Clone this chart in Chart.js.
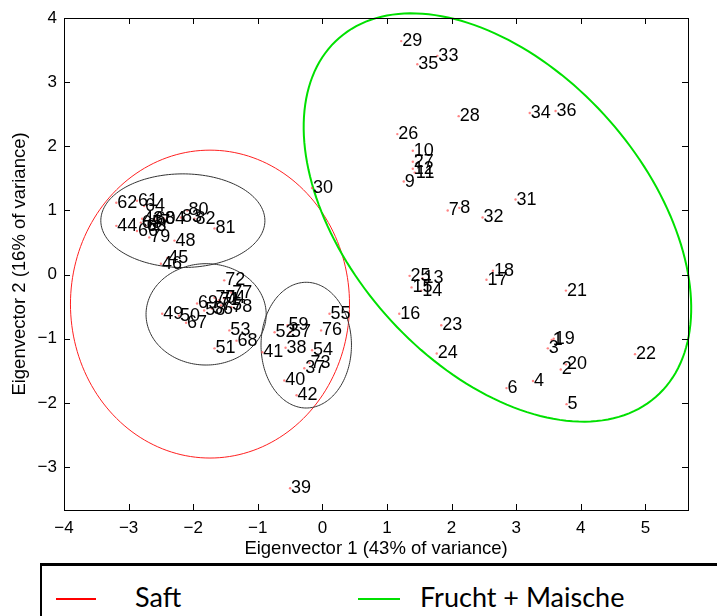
<!DOCTYPE html>
<html>
<head>
<meta charset="utf-8">
<script src="https://cdn.jsdelivr.net/npm/chart.js@4.4.1/dist/chart.umd.min.js"></script>
<style>
  html, body { margin: 0; padding: 0; background: #fff; }
  #wrap { position: relative; width: 717px; height: 616px; overflow: hidden; }
  #chart-box { position: absolute; left: 0; top: 0; width: 717px; height: 560px; }
  #legend {
    position: absolute; left: 40px; top: 563px; width: 700px; height: 70px;
    border-top: 3px solid #000; border-left: 2px solid #000;
    font-family: Lato, "Open Sans", sans-serif; font-size: 27px; color: #000;
  }
  #legend .swatch { position: absolute; top: 32px; height: 2px; }
  #legend .txt { position: absolute; top: 16px; line-height: 30px; }
</style>
</head>
<body>
<div id="wrap">
  <div id="chart-box"><canvas id="pcaChart" width="717" height="560"></canvas></div>
  <div id="legend">
    <div class="swatch" style="left:14px;width:40px;background:#ff0000"></div>
    <div class="txt" style="left:93px">Saft</div>
    <div class="swatch" style="left:316px;width:42px;background:#00e000"></div>
    <div class="txt" style="left:378px">Frucht + Maische</div>
  </div>
</div>
<script>
// sample numbers 1..84 with their scores on the first two eigenvectors
const sampleIds = [];
for (let i = 1; i <= 84; i++) sampleIds.push(String(i));

const pc1Scores = [
  3.55, 3.69, 3.49, 3.26, 3.78, 2.85, 1.94, 2.12, 1.26, 1.40,
  1.43, 1.40, 1.55, 1.53, 1.38, 1.19, 2.54, 2.64, 3.58, 3.77,
  3.77, 4.84, 1.84, 1.77, 1.35, 1.16, 1.40, 2.11, 1.22, -0.16,
  2.99, 2.48, 1.78, 3.21, 1.47, 3.61, -0.28, -0.57, -0.50, -0.59,
  -0.93, -0.40, -2.79, -3.19, -2.40, -2.50, -2.68, -2.29, -2.48, -2.22,
  -1.67, -0.74, -1.44, -0.16, 0.11, -1.71, -0.50, -1.83, -0.54, -2.60,
  -2.87, -3.19, -2.74, -2.76, -2.81, -2.87, -2.11, -1.33, -1.94, -1.67,
  -1.60, -1.52, -0.20, -1.52, -1.57, -0.02, -1.41, -1.41, -2.68, -2.09,
  -1.67, -1.98, -2.19, -2.45
];
const pc2Scores = [
  -1.02, -1.48, -1.15, -1.66, -2.02, -1.77, 1.00, 1.04, 1.45, 1.93,
  1.59, 1.65, -0.06, -0.25, -0.20, -0.61, -0.08, 0.06, -1.00, -1.40,
  -0.25, -1.24, -0.79, -1.23, -0.02, 2.19, 1.76, 2.47, 3.64, 1.35,
  1.17, 0.89, 3.41, 2.52, 3.28, 2.55, -1.46, -1.14, -3.33, -1.65,
  -1.21, -1.88, 0.87, 0.76, 0.26, 0.17, 0.82, 0.53, -0.61, -0.64,
  -1.15, -0.90, -0.87, -1.18, -0.61, -0.53, -0.90, -0.56, -0.79, 0.86,
  1.15, 1.12, 0.76, 1.07, 0.81, 0.68, -0.75, -1.03, -0.45, -0.36,
  -0.40, -0.09, -1.38, -0.37, -0.48, -0.87, -0.28, -0.51, 0.58, 1.00,
  0.72, 0.87, 0.89, 0.87
];

// group ellipses (centre, semi axes, rotation in degrees) in data units
const ellipseCx = [-1.74, 2.71, -2.16, -1.80, -0.25];
const ellipseCy = [-0.46, 0.89, 0.84, -0.62, -1.10];
const ellipseA = [2.16, 3.72, 1.27, 0.93, 0.70];
const ellipseB = [2.40, 2.30, 0.73, 0.79, 0.98];
const ellipseRot = [0, -48.8, 0, 0, 0];
const ellipseColors = ["#ff2020", "#00e000", "#333333", "#333333", "#333333"];
const ellipseWidths = [1, 2, 1, 1, 1];

const xTicks = [-4, -3, -2, -1, 0, 1, 2, 3, 4, 5];
const yTicks = [-3, -2, -1, 0, 1, 2, 3, 4];

const points = sampleIds.map((id, i) => ({ x: pc1Scores[i], y: pc2Scores[i] }));
const fmt = v => String(v).replace("-", "\u2212");

// ellipses under the points
const ellipsePlugin = {
  id: "ellipses",
  beforeDatasetsDraw(chart) {
    const { ctx, scales: { x, y } } = chart;
    ctx.save();
    for (let k = 0; k < ellipseCx.length; k++) {
      const r = ellipseRot[k] * Math.PI / 180;
      ctx.beginPath();
      for (let s = 0; s <= 360; s += 2) {
        const t = s * Math.PI / 180;
        const u = ellipseA[k] * Math.cos(t), w = ellipseB[k] * Math.sin(t);
        const dx = ellipseCx[k] + u * Math.cos(r) - w * Math.sin(r);
        const dy = ellipseCy[k] + u * Math.sin(r) + w * Math.cos(r);
        const px = x.getPixelForValue(dx), py = y.getPixelForValue(dy);
        if (s === 0) ctx.moveTo(px, py); else ctx.lineTo(px, py);
      }
      ctx.closePath();
      ctx.strokeStyle = ellipseColors[k];
      ctx.lineWidth = ellipseWidths[k];
      ctx.stroke();
    }
    ctx.restore();
  }
};

// box frame with inward ticks on all four sides
const framePlugin = {
  id: "frame",
  afterDraw(chart) {
    const { ctx, chartArea: a, scales: { x, y } } = chart;
    ctx.save();
    ctx.strokeStyle = "#000";
    ctx.lineWidth = 1;
    ctx.strokeRect(a.left + 0.5, a.top + 0.5, a.right - a.left, a.bottom - a.top);
    ctx.beginPath();
    xTicks.forEach(v => {
      const px = Math.round(x.getPixelForValue(v)) + 0.5;
      ctx.moveTo(px, a.bottom); ctx.lineTo(px, a.bottom - 6);
      ctx.moveTo(px, a.top); ctx.lineTo(px, a.top + 6);
    });
    yTicks.forEach(v => {
      const py = Math.round(y.getPixelForValue(v)) + 0.5;
      ctx.moveTo(a.left, py); ctx.lineTo(a.left + 6, py);
      ctx.moveTo(a.right, py); ctx.lineTo(a.right - 6, py);
    });
    ctx.stroke();
    ctx.restore();
  }
};

// sample numbers written to the right of each point
const labelPlugin = {
  id: "sampleLabels",
  afterDatasetsDraw(chart) {
    const { ctx } = chart;
    const meta = chart.getDatasetMeta(0);
    ctx.save();
    ctx.font = '18px "Liberation Sans", Arial, sans-serif';
    ctx.fillStyle = "#000";
    ctx.textAlign = "left";
    ctx.textBaseline = "middle";
    meta.data.forEach((pt, i) => ctx.fillText(sampleIds[i], pt.x + 1, pt.y));
    ctx.restore();
  }
};

const tickFont = { family: '"Liberation Sans", Arial, sans-serif', size: 17 };
const titleFont = { family: '"Liberation Sans", Arial, sans-serif', size: 18.5 };

new Chart(document.getElementById("pcaChart"), {
  type: "scatter",
  data: {
    datasets: [{
      data: points,
      pointRadius: 1.2,
      pointBackgroundColor: "rgba(255,80,80,0.7)",
      pointBorderWidth: 0
    }]
  },
  options: {
    responsive: false,
    animation: false,
    layout: { padding: { top: 18, right: 29, left: 0, bottom: 0 } },
    plugins: { legend: { display: false }, tooltip: { enabled: false } },
    scales: {
      x: {
        type: "linear", min: -4, max: 5.66,
        afterBuildTicks: s => { s.ticks = xTicks.map(v => ({ value: v })); },
        afterFit: s => { s.height = 50; },
        grid: { display: false, drawTicks: false },
        border: { display: false },
        ticks: { color: "#000", font: tickFont, padding: 8, callback: v => fmt(v) },
        title: { display: true, text: "Eigenvector 1 (43% of variance)", color: "#000", font: titleFont, padding: { top: 0, bottom: 0 } }
      },
      y: {
        type: "linear", min: -3.67, max: 4,
        afterBuildTicks: s => { s.ticks = yTicks.map(v => ({ value: v })); },
        afterFit: s => { s.width = 64; },
        grid: { display: false, drawTicks: false },
        border: { display: false },
        ticks: { color: "#000", font: tickFont, padding: 7, callback: v => fmt(v) },
        title: { display: true, text: "Eigenvector 2 (16% of variance)", color: "#000", font: titleFont, padding: { top: 9, bottom: 0 } }
      }
    }
  },
  plugins: [ellipsePlugin, labelPlugin, framePlugin]
});
</script>
</body>
</html>
